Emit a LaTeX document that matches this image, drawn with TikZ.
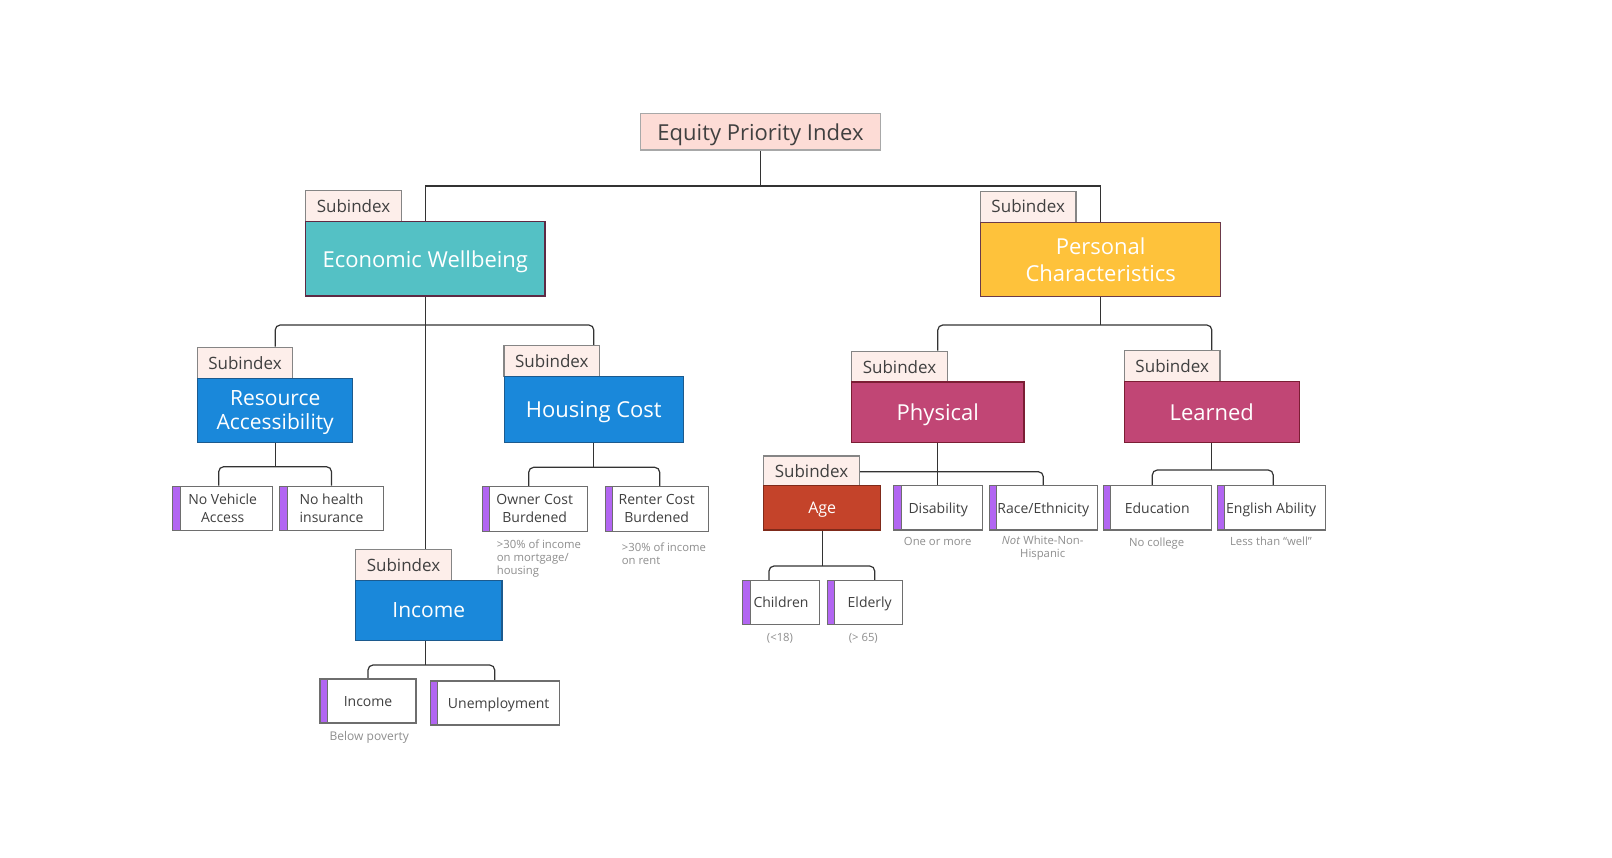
\documentclass[tikz,border=0pt]{standalone}
\usepackage{fontspec}
\setmainfont{Open Sans}
\usetikzlibrary{backgrounds}
\definecolor{tabfill}{HTML}{FDEEEA}
\definecolor{tabdraw}{HTML}{858585}
\definecolor{eqfill}{HTML}{FDDCD6}
\definecolor{eqdraw}{HTML}{A8A8A8}
\definecolor{txt}{HTML}{404040}
\definecolor{notec}{HTML}{8E8E8E}
\definecolor{connc}{HTML}{333333}
\definecolor{leafdraw}{HTML}{6E6E6E}
\definecolor{barc}{HTML}{B266F2}
\definecolor{tealc}{HTML}{54C1C5}
\definecolor{teald}{HTML}{5E2A44}
\definecolor{yelc}{HTML}{FEC23B}
\definecolor{yeld}{HTML}{6B3A4A}
\definecolor{bluec}{HTML}{1A88DA}
\definecolor{blued}{HTML}{1C5A8E}
\definecolor{magc}{HTML}{C14675}
\definecolor{magd}{HTML}{7B1E34}
\definecolor{agec}{HTML}{C4432A}
\definecolor{aged}{HTML}{7F2A1A}
\tikzset{
  conn/.style={draw=connc, line width=1.2pt, rounded corners=5pt},
  tab/.style={draw=tabdraw, fill=tabfill, line width=1.1pt, minimum width=95.6pt,
    minimum height=31pt, inner sep=0pt, text=txt, font=\fontsize{17}{20}\selectfont},
  big/.style={line width=1.2pt, inner sep=0pt, text=white, align=center, text depth=0pt,
    font=\fontsize{22}{27}\selectfont},
  leaf/.style={draw=leafdraw, fill=white, line width=1.1pt, inner sep=0pt, text depth=0pt,
    minimum height=44.5pt, text=txt, align=center, font=\fontsize{14}{18}\selectfont,
    path picture={\fill[barc] (path picture bounding box.north west) rectangle
      ([xshift=7.5pt]path picture bounding box.south west);
      \draw[leafdraw, line width=1.1pt] ([xshift=7.5pt]path picture bounding box.north west)
      -- ([xshift=7.5pt]path picture bounding box.south west);}},
  note/.style={text=notec, font=\fontsize{11.3}{13.3}\selectfont, inner sep=0pt},
}
\begin{document}
\begin{tikzpicture}[x=1pt,y=-1pt]
\useasboundingbox (0,0) rectangle (1612,858);
% top
\node[draw=eqdraw, fill=eqfill, line width=1.1pt, minimum width=240.4pt, minimum height=36.7pt,
  inner sep=0pt, text=txt, text depth=0pt, font=\fontsize{22}{26}\selectfont] (equity) at (760.5,131.7) {Equity Priority Index};
% economic wellbeing
\node[tab] (econtab) at (353.5,206.3) {Subindex};
\node[big, draw=teald, fill=tealc, minimum width=239.3pt, minimum height=74.3pt] (econ) at (425.3,258.8) {Economic Wellbeing};
% personal characteristics
\node[tab] (perstab) at (1028.2,206.6) {Subindex};
\node[big, draw=yeld, fill=yelc, minimum width=240pt, minimum height=74pt] (personal) at (1100.7,259.3) {Personal\\Characteristics};
% resource
\node[tab] (restab) at (245,362.8) {Subindex};
\node[big, draw=blued, fill=bluec, minimum width=155pt, minimum height=64.4pt,
  font=\fontsize{21}{24}\selectfont] (resource) at (275.2,410.5) {Resource\\Accessibility};
% housing
\node[tab] (houtab) at (551.8,361.2) {Subindex};
\node[big, draw=blued, fill=bluec, minimum width=179pt, minimum height=66pt] (housing) at (593.8,409.7) {Housing Cost};
% income
\node[tab] (inctab) at (403.5,564.8) {Subindex};
\node[big, draw=blued, fill=bluec, minimum width=146.3pt, minimum height=59.6pt,
  font=\fontsize{21}{24}\selectfont] (income) at (428.8,610.5) {Income};
% physical
\node[tab] (phytab) at (899.5,366.8) {Subindex};
\node[big, draw=magd, fill=magc, minimum width=172.3pt, minimum height=60.7pt] (physical) at (937.8,412.3) {Physical};
% learned
\node[tab] (lrntab) at (1172.2,366.3) {Subindex};
\node[big, draw=magd, fill=magc, minimum width=175pt, minimum height=61pt] (learned) at (1211.8,412.2) {Learned};
% age
\node[tab, minimum height=29.7pt] (agetab) at (811.5,470.8) {Subindex};
\node[big, draw=aged, fill=agec, minimum width=117pt, minimum height=44.3pt,
  font=\fontsize{16}{20}\selectfont] (age) at (822.2,507.8) {Age};
% leaves
\node[leaf, minimum width=100pt] (novehicle) at (222.7,508.5) {No Vehicle\\Access};
\node[leaf, minimum width=103.6pt] (nohealth) at (331.5,508.5) {No health\\insurance};
\node[leaf, minimum width=104.7pt] (owner) at (534.7,508.8) {Owner Cost\\Burdened};
\node[leaf, minimum width=103.3pt] (renter) at (656.7,508.8) {Renter Cost\\Burdened};
\node[leaf, minimum width=96pt, minimum height=44pt] (incleaf) at (368,701) {Income};
\node[leaf, minimum width=129.3pt, minimum height=44pt] (unemp) at (494.7,703) {\hspace*{8pt}Unemployment};
\node[leaf, minimum width=89pt, minimum height=44.3pt] (disability) at (938.2,507.8) {Disability};
\node[leaf, minimum width=108pt, minimum height=44.3pt] (race) at (1043.3,507.8) {Race/Ethnicity};
\node[leaf, minimum width=108pt, minimum height=44.3pt] (education) at (1157.3,507.8) {Education};
\node[leaf, minimum width=108.3pt, minimum height=44.3pt] (english) at (1271.2,507.8) {English Ability};
\node[leaf, minimum width=76.6pt, minimum height=44pt] (children) at (781,602.3) {Children};
\node[leaf, minimum width=75.3pt, minimum height=44pt] (elderly) at (864.7,602.3) {\hspace*{10pt}Elderly};
% notes
\node[note, anchor=north west, align=left] (ownernote) at (496.7,539.5) {>30\% of income\\on mortgage/\\housing};
\node[note, anchor=north west, align=left] (renternote) at (621.7,542.5) {>30\% of income\\on rent};
\node[note, font=\fontsize{12}{14}\selectfont] (povnote) at (369.3,737.7) {Below poverty};
\node[note] (disnote) at (937.7,541.7) {One or more};
\node[note, align=center] (racenote) at (1042.7,548) {\textit{Not} White-Non-\\Hispanic};
\node[note] (ednote) at (1156.7,543.2) {No college};
\node[note] (ennote) at (1271,541) {Less than “well”};
\node[note] (chnote) at (780,638.7) {(<18)};
\node[note] (elnote) at (863.3,638.7) {(> 65)};
% connectors
\coordinate (tj) at (760.5,186);
\coordinate (ej) at (425.3,325);
\coordinate (rj) at (275.2,466.7);
\coordinate (hj) at (593.8,467.3);
\coordinate (ij) at (425.3,665);
\coordinate (pj) at (1100.7,325);
\coordinate (phj) at (937.8,471.7);
\coordinate (aj) at (822.2,566);
\coordinate (lj) at (1211.8,470);
\begin{scope}[on background layer]
\fill[white] (0,0) rectangle (1612,858);
\draw[conn] (equity.south) -- (tj);
\draw[conn, sharp corners] (econ.north) |- (tj) -| (personal.north);
\draw[conn] (econ.south) -- (econ.south |- inctab.north);
\draw[conn] (restab.north -| resource.north) |- (ej) -| (houtab.north -| housing.north);
\draw[conn] (resource.south) -- (rj);
\draw[conn] ([xshift=-4pt]novehicle.north) |- (rj) -| (nohealth.north);
\draw[conn] (housing.south) -- (hj);
\draw[conn] ([xshift=-6pt]owner.north) |- (hj) -| ([xshift=3pt]renter.north);
\draw[conn] ([xshift=-3.5pt]income.south) -- (ij);
\draw[conn] (incleaf.north) |- (ij) -| (unemp.north);
\draw[conn] (personal.south) -- (pj);
\draw[conn] (phytab.north -| physical.north) |- (pj) -| (lrntab.north -| learned.north);
\draw[conn] (physical.south) -- (physical.south |- disability.north);
\draw[conn] (agetab.center |- phj) -| (race.north);
\draw[conn] (age.south) -- (aj);
\draw[conn] ([xshift=-12pt]children.north) |- (aj) -| ([xshift=10pt]elderly.north);
\draw[conn] (learned.south) -- (lj);
\draw[conn] ([xshift=-5pt]education.north) |- (lj) -| ([xshift=2pt]english.north);
\end{scope}
\end{tikzpicture}
\end{document}
